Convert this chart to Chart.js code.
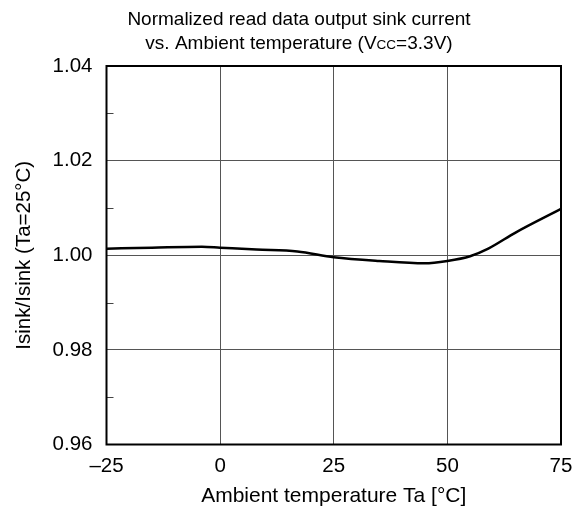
<!DOCTYPE html>
<html>
<head>
<meta charset="utf-8">
<script src="https://cdn.jsdelivr.net/npm/chart.js@4.4.1/dist/chart.umd.min.js"></script>
<style>
  html, body { margin: 0; padding: 0; background: #fff; }
  #wrap { width: 584px; height: 512px; position: relative; }
</style>
</head>
<body>
<div id="wrap"><canvas id="grafico"></canvas></div>
<script>
// Datos
const temperaturas = [-25, -15, -4, 0, 8, 17, 25, 35, 45, 50, 55, 59, 65, 75];
const corriente = [1.0014, 1.0016, 1.0018, 1.0016, 1.0012, 1.0008, 0.9996, 0.9988, 0.9983, 0.9988, 0.9998, 1.0014, 1.0048, 1.0098];
const ticksX = [-25, 0, 25, 50, 75];
const ticksY = [0.96, 0.98, 1.00, 1.02, 1.04];
const ticksMenoresY = [0.97, 0.99, 1.01, 1.03];

const fuente = "'Liberation Sans', Arial, sans-serif";
Chart.defaults.font.family = fuente;
Chart.defaults.color = '#000';

// Título con "CC" en versalitas, marco y marcas menores
const extras = {
    id: 'extras',
    afterDraw(chart) {
        const ctx = chart.ctx;
        const area = chart.chartArea;
        const y = chart.scales.y;
        ctx.save();

        // marcas menores del eje Y
        ctx.strokeStyle = '#444';
        ctx.lineWidth = 1;
        ticksMenoresY.forEach(v => {
            const py = Math.round(y.getPixelForValue(v)) + 0.5;
            ctx.beginPath();
            ctx.moveTo(area.left, py);
            ctx.lineTo(area.left + 7, py);
            ctx.stroke();
        });

        // marco
        ctx.strokeStyle = '#000';
        ctx.lineWidth = 2;
        ctx.strokeRect(area.left, area.top, area.right - area.left, area.bottom - area.top);

        // título
        ctx.fillStyle = '#000';
        ctx.textBaseline = 'alphabetic';
        ctx.textAlign = 'center';
        ctx.font = '19px ' + fuente;
        const cx = 299;
        ctx.fillText('Normalized read data output sink current', cx, 25);

        const partes = [
            ['vs. Ambient temperature (V', 19],
            ['CC', 13.5],
            ['=3.3V)', 19]
        ];
        let total = 0;
        partes.forEach(p => { ctx.font = p[1] + 'px ' + fuente; total += ctx.measureText(p[0]).width; });
        let x = cx - total / 2;
        ctx.textAlign = 'left';
        partes.forEach(p => {
            ctx.font = p[1] + 'px ' + fuente;
            ctx.fillText(p[0], x, 49);
            x += ctx.measureText(p[0]).width;
        });
        ctx.restore();
    }
};

new Chart(document.getElementById('grafico'), {
    type: 'line',
    data: {
        datasets: [{
            data: temperaturas.map((t, i) => ({ x: t, y: corriente[i] })),
            borderColor: '#000',
            borderWidth: 2.5,
            pointRadius: 0,
            cubicInterpolationMode: 'monotone',
            fill: false
        }]
    },
    options: {
        responsive: true,
        maintainAspectRatio: false,
        animation: false,
        layout: { padding: { top: 66, right: 23, left: 0, bottom: 0 } },
        plugins: {
            legend: { display: false },
            tooltip: { enabled: false }
        },
        scales: {
            x: {
                type: 'linear',
                min: -25,
                max: 75,
                afterBuildTicks: s => { s.ticks = ticksX.map(v => ({ value: v })); },
                afterFit: s => { s.height = 67.5; },
                grid: { color: '#555', lineWidth: 1, drawTicks: false },
                border: { display: false },
                ticks: {
                    padding: 10,
                    font: { size: 20.5 },
                    callback: v => String(v).replace('-', '\u2013')
                },
                title: {
                    display: true,
                    text: 'Ambient temperature Ta [°C]',
                    font: { size: 21 },
                    padding: { top: 0, bottom: 3 }
                }
            },
            y: {
                min: 0.96,
                max: 1.04,
                afterBuildTicks: s => { s.ticks = ticksY.map(v => ({ value: v })); },
                afterFit: s => { s.width = 106.5; },
                grid: { color: '#555', lineWidth: 1, drawTicks: false },
                border: { display: false },
                ticks: {
                    padding: 14,
                    font: { size: 20.5 },
                    callback: v => Number(v).toFixed(2)
                },
                title: {
                    display: true,
                    text: 'Isink/Isink (Ta=25°C)',
                    font: { size: 20.5 },
                    padding: { top: 12, bottom: 0 }
                }
            }
        }
    },
    plugins: [extras]
});
</script>
</body>
</html>
